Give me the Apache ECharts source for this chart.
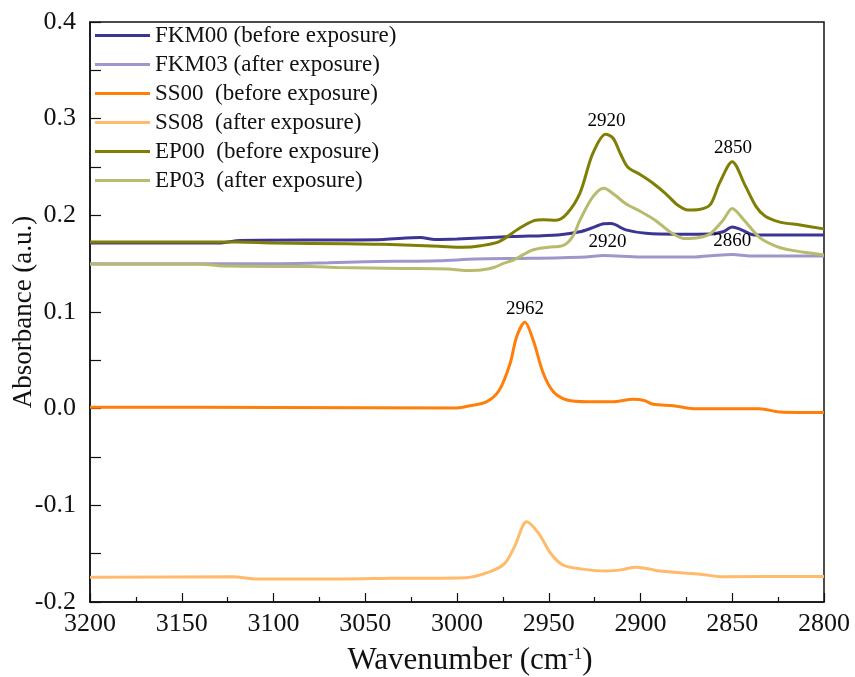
<!DOCTYPE html>
<html>
<head>
<meta charset="utf-8">
<title>FTIR absorbance</title>
<script src="https://cdn.jsdelivr.net/npm/echarts@6/dist/echarts.min.js"></script>
<style>
  html, body { margin: 0; padding: 0; background: #fff; }
  #chart { width: 855px; height: 677px; }
</style>
</head>
<body>
<div id="chart"></div>
<script>
// Wavenumber ticks (cm-1), x axis runs high to low
const xTicks = [3200, 3150, 3100, 3050, 3000, 2950, 2900, 2850, 2800];
const yTicks = [-0.2, -0.1, 0.0, 0.1, 0.2, 0.3, 0.4];

// FKM00 (before exposure)
const fkm00W = [3200, 3130, 3118, 3060, 3040, 3020, 3012, 3000, 2970, 2945, 2933, 2927, 2920, 2916, 2908, 2897, 2880, 2862, 2855, 2850, 2845, 2838, 2820, 2800];
const fkm00A = [0.1715, 0.1715, 0.1740, 0.1745, 0.1750, 0.1770, 0.1750, 0.1755, 0.1780, 0.1797, 0.1830, 0.1866, 0.1912, 0.1915, 0.1849, 0.1814, 0.1805, 0.1807, 0.1830, 0.1880, 0.1850, 0.1797, 0.1797, 0.1797];

// FKM03 (after exposure)
const fkm03W = [3200, 3100, 3070, 3050, 3010, 2990, 2960, 2930, 2920, 2900, 2870, 2860, 2850, 2840, 2800];
const fkm03A = [0.1500, 0.1500, 0.1510, 0.1520, 0.1530, 0.1548, 0.1555, 0.1570, 0.1585, 0.1570, 0.1570, 0.1585, 0.1595, 0.1580, 0.1580];

// SS00 (before exposure)
const ss00W = [3200, 3100, 3000, 2993, 2984, 2977, 2971, 2967.5, 2963, 2958.5, 2953, 2947.5, 2940, 2929, 2915, 2904, 2898, 2893, 2882, 2871, 2835, 2824, 2800];
const ss00A = [0.0015, 0.0012, 0.0008, 0.003, 0.007, 0.019, 0.047, 0.0745, 0.0894, 0.071, 0.0366, 0.0176, 0.009, 0.0072, 0.0072, 0.0097, 0.0085, 0.0045, 0.003, 0.000, 0.000, -0.0034, -0.004];

// SS08 (after exposure)
const ss08W = [3200, 3122, 3110, 3063, 3035, 2995, 2982, 2974, 2968.7, 2962, 2955.5, 2949, 2942.3, 2931.8, 2918.6, 2910, 2902.8, 2895, 2889.6, 2868.5, 2855.3, 2800];
const ss08A = [-0.1745, -0.1738, -0.1762, -0.1762, -0.1755, -0.1748, -0.1686, -0.160, -0.143, -0.117, -0.129, -0.1496, -0.1617, -0.166, -0.168, -0.1665, -0.164, -0.166, -0.168, -0.171, -0.1738, -0.1735];

// EP00 (before exposure)
const ep00W = [3200, 3120, 3100, 3060, 3040, 3010, 2997, 2987, 2977, 2966, 2958, 2953, 2946, 2940, 2933, 2926, 2919, 2915, 2911, 2907, 2900, 2893, 2886, 2880, 2874, 2868, 2862, 2857, 2850, 2843, 2837, 2832, 2824, 2813, 2800];
const ep00A = [0.1725, 0.1725, 0.1715, 0.1705, 0.1700, 0.1680, 0.1670, 0.1686, 0.1728, 0.1866, 0.1945, 0.1955, 0.1950, 0.2020, 0.2230, 0.2640, 0.2840, 0.2800, 0.2640, 0.2500, 0.2420, 0.2330, 0.2220, 0.2110, 0.2055, 0.2060, 0.2110, 0.2330, 0.2555, 0.2310, 0.2090, 0.1990, 0.1930, 0.1900, 0.1860];

// EP03 (after exposure)
const ep03W = [3200, 3140, 3125, 3080, 3065, 3030, 3005, 2995, 2987, 2980, 2975, 2969, 2959, 2950, 2942, 2937, 2933, 2926, 2920, 2914, 2908, 2900, 2892, 2884, 2876, 2868, 2862, 2855, 2850, 2844, 2835, 2826, 2818, 2808, 2800];
const ep03A = [0.1495, 0.1495, 0.1475, 0.1470, 0.1460, 0.1450, 0.1445, 0.1430, 0.1435, 0.1460, 0.1500, 0.1540, 0.1640, 0.1670, 0.1690, 0.1780, 0.1950, 0.2190, 0.2280, 0.2210, 0.2120, 0.2040, 0.1950, 0.1830, 0.1760, 0.1770, 0.1810, 0.1950, 0.2070, 0.1960, 0.1770, 0.1680, 0.1640, 0.1610, 0.1590];

// Peak annotations: position (wavenumber, absorbance) and text
const peakW = [2918.5, 2849.6, 2918, 2850, 2963];
const peakA = [0.284, 0.2555, 0.1585, 0.1595, 0.0894];
const peakText = ['2920', '2850', '2920', '2860', '2962'];

const seriesNames = [
  'FKM00 (before exposure)',
  'FKM03 (after exposure)',
  'SS00  (before exposure)',
  'SS08  (after exposure)',
  'EP00  (before exposure)',
  'EP03  (after exposure)'
];
const seriesColors = ['#3d3593', '#9d98cb', '#ff7f0a', '#ffbb6b', '#7f7f05', '#b8bb6e'];
const seriesW = [fkm00W, fkm03W, ss00W, ss08W, ep00W, ep03W];
const seriesA = [fkm00A, fkm03A, ss00A, ss08A, ep00A, ep03A];

const FONT = "'Liberation Serif', 'Times New Roman', serif";

const pairs = (ws, as) => ws.map((w, i) => [w, as[i]]);

const lineSeries = seriesNames.map((name, k) => ({
  name: name,
  type: 'line',
  data: pairs(seriesW[k], seriesA[k]),
  smooth: 0.3,
  showSymbol: false,
  symbol: 'none',
  lineStyle: { color: seriesColors[k], width: 3 },
  itemStyle: { color: seriesColors[k] },
  z: 2 + k
}));

const annoSeries = {
  name: 'peaks',
  type: 'scatter',
  data: peakW.map((w, i) => [w, peakA[i], peakText[i]]),
  symbolSize: 0,
  silent: true,
  z: 20,
  label: {
    show: true,
    position: 'top',
    distance: 4,
    formatter: p => p.value[2],
    fontFamily: FONT,
    fontSize: 19,
    color: '#000',
    opacity: 1
  }
};

const chart = echarts.init(document.getElementById('chart'), null, { renderer: 'canvas' });
chart.setOption({
  animation: false,
  backgroundColor: '#fff',
  grid: {
    left: 90, top: 22, width: 734, height: 580,
    containLabel: false,
    outerBoundsMode: 'none',
    show: true, borderColor: '#111', borderWidth: 1.5, backgroundColor: 'transparent'
  },
  legend: {
    data: seriesNames,
    orient: 'vertical',
    left: 95,
    top: 24,
    padding: 0,
    icon: 'rect',
    itemWidth: 55,
    itemHeight: 3,
    itemGap: 6,
    textStyle: { fontFamily: FONT, fontSize: 23, color: '#111', lineHeight: 23 }
  },
  xAxis: {
    type: 'value',
    inverse: true,
    min: xTicks[xTicks.length - 1],
    max: xTicks[0],
    interval: 50,
    name: '{a|Wavenumber (cm}{s|-1}{a|)}',
    nameLocation: 'middle',
    nameGap: 44,
    nameMoveOverlap: false,
    nameTextStyle: {
      padding: [0, 0, 0, 26],
      rich: {
        a: { fontFamily: FONT, fontSize: 31, color: '#111', lineHeight: 30 },
        s: { fontFamily: FONT, fontSize: 17, color: '#111', verticalAlign: 'top', lineHeight: 30 }
      }
    },
    axisLine: { onZero: false, lineStyle: { color: '#111', width: 1.5 } },
    axisTick: { inside: true, length: 9, lineStyle: { color: '#111', width: 1.2 } },
    minorTick: { show: true, splitNumber: 2, length: 5, lineStyle: { color: '#111', width: 1.2 } },
    axisLabel: {
      fontFamily: FONT, fontSize: 26, color: '#111', margin: 9,
      formatter: v => String(v)
    },
    splitLine: { show: false }
  },
  yAxis: {
    type: 'value',
    min: yTicks[0],
    max: yTicks[yTicks.length - 1],
    interval: 0.1,
    name: 'Absorbance (a.u.)',
    nameLocation: 'middle',
    nameGap: 53,
    nameMoveOverlap: false,
    nameTextStyle: { fontFamily: FONT, fontSize: 27, color: '#111' },
    axisLine: { onZero: false, lineStyle: { color: '#111', width: 1.5 } },
    axisTick: { inside: true, length: 11, lineStyle: { color: '#111', width: 1.2 } },
    minorTick: { show: true, splitNumber: 2, length: 11, lineStyle: { color: '#111', width: 1.2 } },
    axisLabel: {
      fontFamily: FONT, fontSize: 26, color: '#111', margin: 14,
      formatter: v => (Math.abs(v) < 1e-9 ? 0 : v).toFixed(1)
    },
    splitLine: { show: false }
  },
  series: lineSeries.concat([annoSeries])
});
</script>
</body>
</html>
